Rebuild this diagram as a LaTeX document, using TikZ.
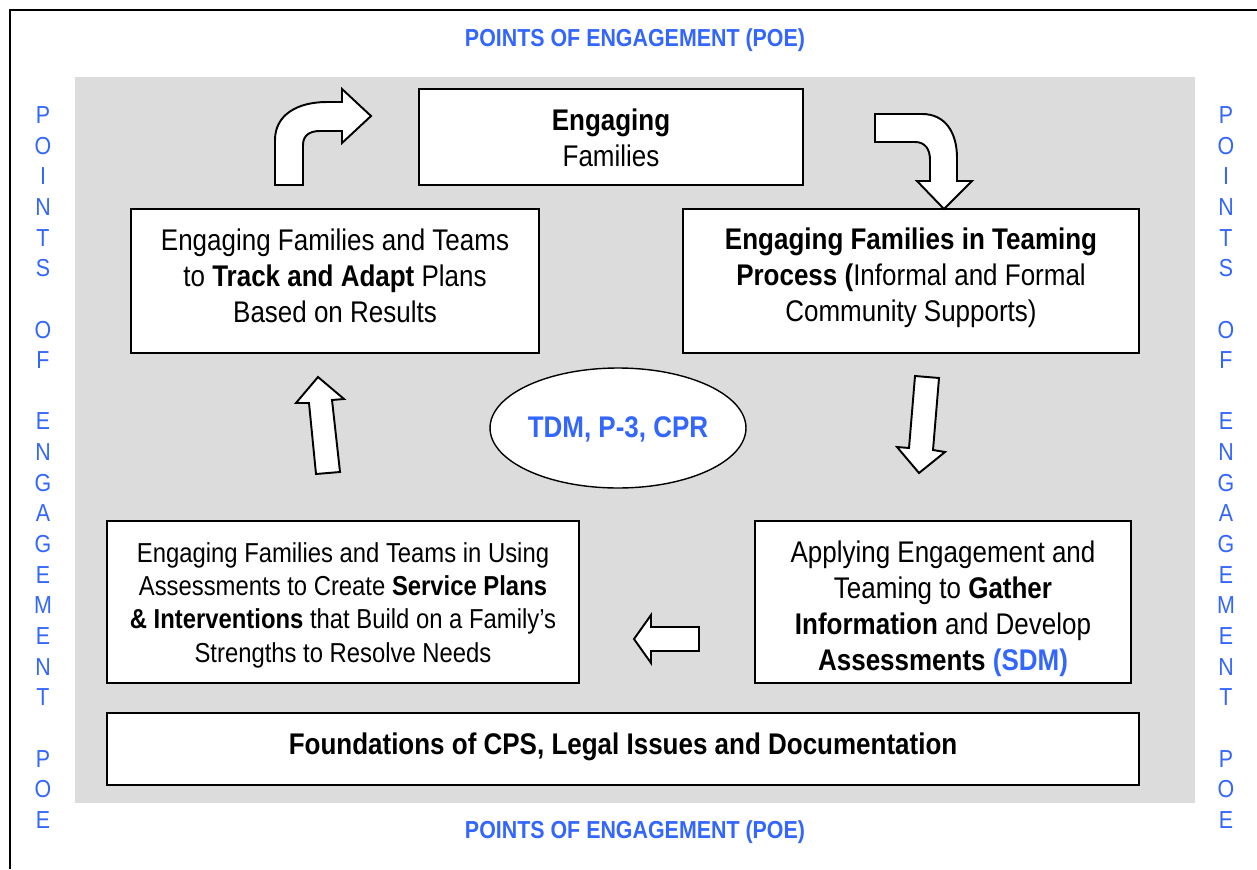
\documentclass[tikz,border=0pt]{standalone}
\usepackage{fontspec}
\setmainfont[FakeStretch=0.87]{Liberation Sans}
\usetikzlibrary{shapes.geometric}
\definecolor{poeblue}{RGB}{51,102,255}
\definecolor{backgray}{RGB}{220,220,220}
\tikzset{
  box/.style={draw, line width=1.1pt, fill=white, inner sep=0pt},
  boxtext/.style={align=center, inner sep=0pt, font=\fontsize{17pt}{20.5pt}\selectfont},
  blockarrow/.style={draw, line width=1.1pt, fill=white, line join=miter},
  poetext/.style={text=poeblue, font=\fontsize{14pt}{16pt}\selectfont\bfseries, inner sep=0pt},
  poeletter/.style={text=poeblue, font=\fontsize{14pt}{16pt}\selectfont, inner sep=0pt}
}

\begin{document}
\begin{tikzpicture}[x=0.02cm,y=-0.02cm]
            \useasboundingbox (0,0) rectangle (1257,869);
            \fill[white] (0,0) rectangle (1257,869);
            \draw[line width=1.3pt] (10,869)--(10,10)--(1257,10);
            \fill[backgray] (75,77) rectangle (1195,803);

            % points of engagement, top and bottom
            \node[poetext] (poetop) at (635,40) {POINTS OF ENGAGEMENT (POE)};
            \node[poetext] (poebot) at (635,832) {POINTS OF ENGAGEMENT (POE)};

            % points of engagement, down the sides
            \foreach \c [count=\i from 0] in {P,O,I,N,T,S,{},O,F,{},E,N,G,A,G,E,M,E,N,T,{},P,O,E}{
                \node[poeletter] (pl\i) at (43,{115+30.65*\i}) {\c};
                \node[poeletter] (pr\i) at (1226,{115+30.65*\i}) {\c};
            }

            % the steps
            \node[box, minimum width=7.68cm, minimum height=1.92cm] (fam) at (611,137) {};
            \node[boxtext] (famtext) at (611,138) {\textbf{Engaging}\\Families};
            \node[box, minimum width=8.16cm, minimum height=2.88cm] (track) at (335,281) {};
            \node[boxtext] (tracktext) at (335,276)
                {Engaging Families and Teams\\to \textbf{Track and Adapt} Plans\\Based on Results};
            \node[box, minimum width=9.12cm, minimum height=2.88cm] (team) at (911,281) {};
            \node[boxtext] (teamtext) at (911,278)
                {\textbf{Engaging Families in Teaming}\\\textbf{Process (}Informal and Formal\\Community Supports)};
            \node[box, minimum width=9.44cm, minimum height=3.24cm] (plan) at (343,602) {};
            \node[boxtext, font=\fontsize{15.6pt}{19pt}\selectfont] (plantext) at (343,605)
                {Engaging Families and Teams in Using\\Assessments to Create \textbf{Service Plans}\\\textbf{\& Interventions} that Build on a Family’s\\Strengths to Resolve Needs};
            \node[box, minimum width=7.52cm, minimum height=3.24cm] (gather) at (943,602) {};
            \node[boxtext] (gathertext) at (943,609)
                {Applying Engagement and\\Teaming to \textbf{Gather}\\\textbf{Information} and Develop\\\textbf{Assessments} \textcolor{poeblue}{\textbf{(SDM)}}};
            \node[box, minimum width=20.64cm, minimum height=1.44cm] (found) at (623,749) {};
            \node[boxtext] (foundtext) at (623,747)
                {\textbf{Foundations of CPS, Legal Issues and Documentation}};
            \node[box, ellipse, line width=0.8pt, minimum width=5.12cm, minimum height=2.4cm] (tdm) at (618,428) {};
            \node[boxtext, text=poeblue] (tdmtext) at (618,429) {\textbf{TDM, P-3, CPR}};

            % block arrows
            \draw[blockarrow] (275,185)--(275,140) .. controls (275,115) and (297,102) .. (327,102)
                --(342,102)--(342,89)--(371,116)--(342,143)--(342,131)--(320,131)
                .. controls (310,131) and (303,135) .. (303,145)--(303,185)--cycle;
            \draw[blockarrow] (875,114)--(922,114) .. controls (945,114) and (957,132) .. (957,158)
                --(957,181)--(972,181)--(944,209)--(917,181)--(930,181)--(930,160)
                .. controls (930,149) and (925,142) .. (915,142)--(875,142)--cycle;
            \draw[blockarrow] (915,376)--(939,378)--(933,450)--(945,452)--(919,473)--(897,447)--(909,448)--cycle;
            \draw[blockarrow] (699,627)--(651,627)--(651,615)--(634,639)--(651,663)--(651,651)--(699,651)--cycle;
            \draw[blockarrow] (316,474)--(309,403)--(296,403)--(318,377)--(344,399)--(332,400)--(340,472)--cycle;
        \end{tikzpicture}
\end{document}
